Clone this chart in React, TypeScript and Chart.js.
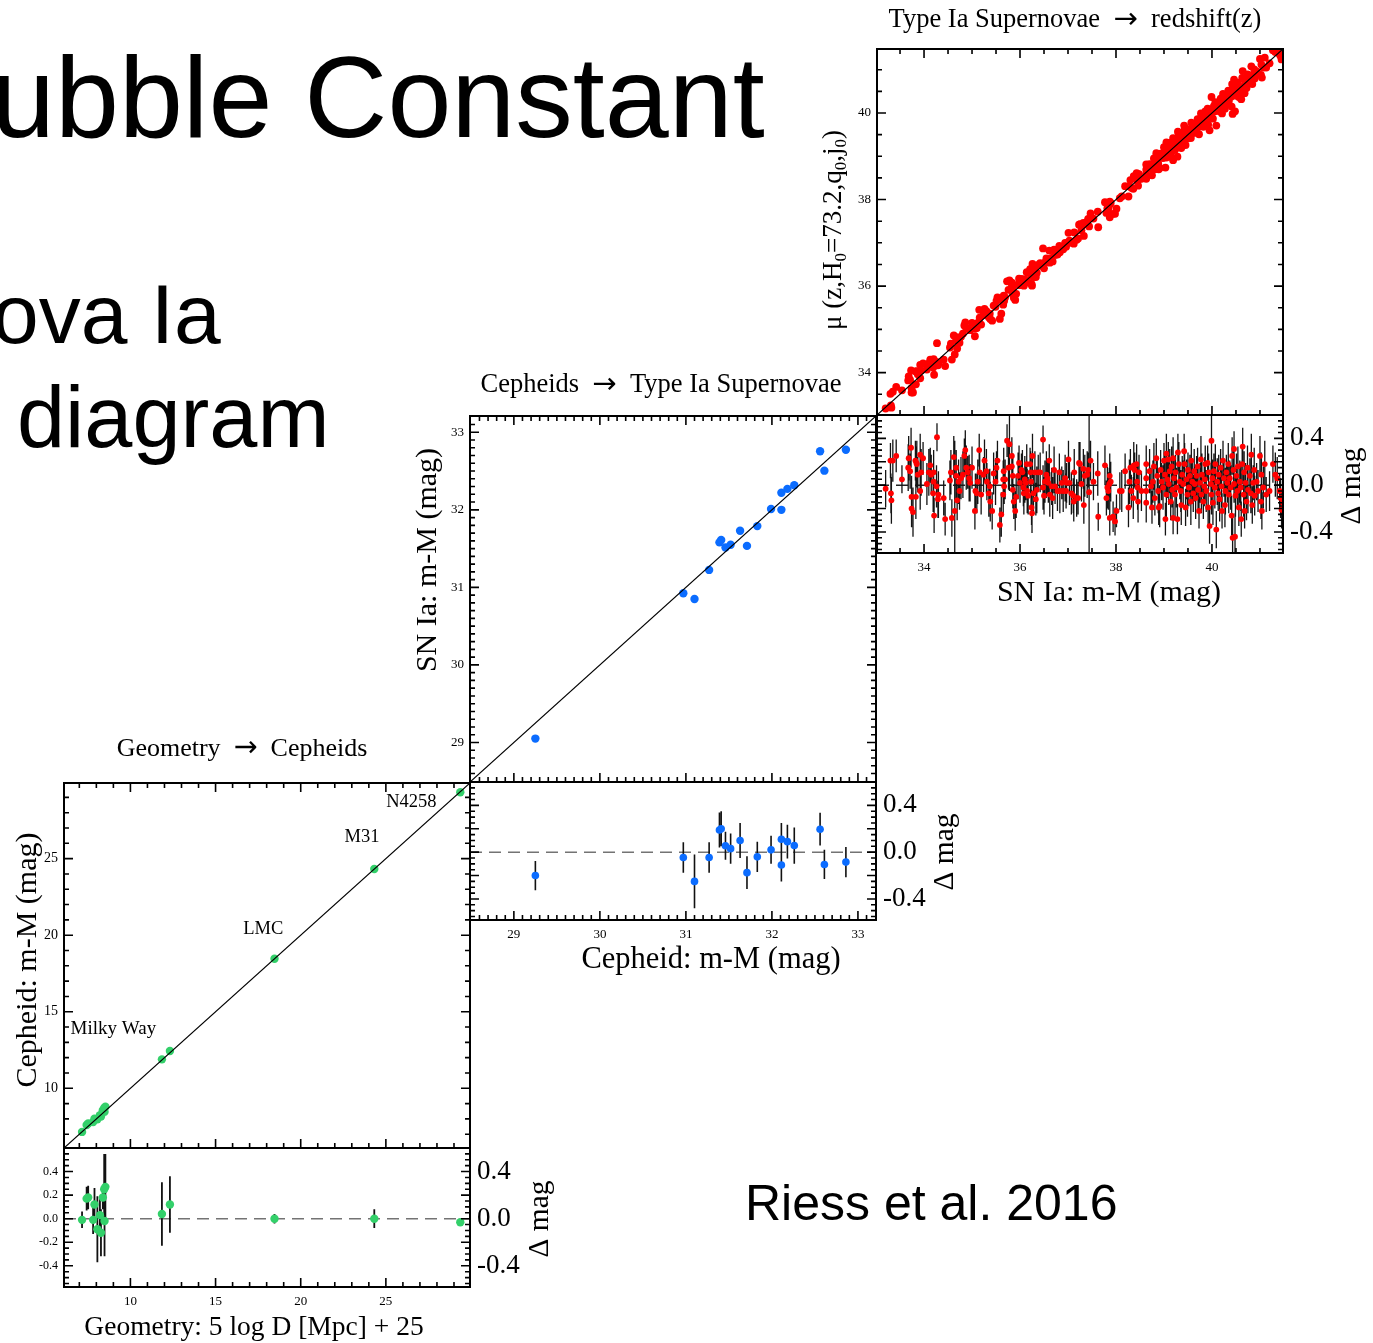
import React, { useEffect, useRef } from "react";
import { Chart, registerables } from "chart.js";

Chart.register(...registerables);

const PAGE_W = 1373;
const PAGE_H = 1343;
const SERIF = '"Liberation Serif", "Times New Roman", Times, serif';
const ARROW_FONT = '"DejaVu Sans", "Liberation Serif", serif';
const SANS = '"Liberation Sans", Helvetica, Arial, sans-serif';

const GREEN = "#33d06a";
const BLUE = "#0b6cff";
const RED = "#ff0000";

// ---- Geometry -> Cepheids (distance modulus from geometry, Cepheid offset, 1-sigma) ----
const GEO_MU = [7.16, 7.43, 7.52, 7.81, 7.89, 8.06, 8.21, 8.27, 8.38, 8.46, 8.53, 8.48, 11.85, 12.32, 18.46, 24.32, 29.37];
const GEO_DELTA = [-0.01, 0.17, 0.18, -0.01, 0.12, -0.09, 0.03, -0.12, 0.18, 0.25, 0.27, -0.02, 0.04, 0.12, 0.0, 0.0, -0.03];
const GEO_ERR = [0.07, 0.1, 0.1, 0.12, 0.14, 0.28, 0.15, 0.2, 0.1, 0.3, 0.28, 0.3, 0.27, 0.24, 0.04, 0.08, 0.03];
const GEO_NAMES = ["N4258", "M31", "LMC", "Milky Way"];

// ---- Cepheids -> SN Ia hosts ----
const CEPH_MU = [29.25, 30.97, 31.1, 31.27, 31.39, 31.41, 31.46, 31.52, 31.63, 31.71, 31.83, 31.99, 32.11, 32.11, 32.18, 32.26, 32.56, 32.61, 32.86];
const CEPH_DELTA = [-0.2, -0.045, -0.25, -0.045, 0.19, 0.2, 0.055, 0.03, 0.1, -0.175, -0.04, 0.02, 0.11, -0.11, 0.09, 0.057, 0.196, -0.105, -0.085];
const CEPH_ERR = [0.125, 0.13, 0.23, 0.13, 0.15, 0.15, 0.12, 0.13, 0.15, 0.14, 0.13, 0.12, 0.14, 0.14, 0.145, 0.155, 0.14, 0.125, 0.13];

// ---- SN Ia -> redshift (Hubble flow sample) ----
const SN_MU = [
  33.2, 33.3, 33.35, 33.31, 33.32, 33.42, 33.54, 33.68, 33.73, 33.67,
  33.71, 33.74, 33.74, 33.77, 33.82, 33.84, 33.85, 33.83, 33.87, 33.92,
  33.94, 33.92, 33.98, 34.06, 34.1, 34.13, 34.15, 34.2, 34.2, 34.19,
  34.21, 34.27, 34.26, 34.3, 34.29, 34.41, 34.44, 34.54, 34.58, 34.56,
  34.62, 34.64, 34.67, 34.69, 34.67, 34.72, 34.74, 34.77, 34.81, 34.84,
  34.86, 34.88, 34.91, 34.94, 34.96, 35.0, 35.07, 35.1, 35.12, 35.06,
  35.15, 35.16, 35.19, 35.24, 35.26, 35.3, 35.31, 35.35, 35.37, 35.38,
  35.42, 35.45, 35.49, 35.51, 35.53, 35.58, 35.61, 35.65, 35.65, 35.66,
  35.67, 35.69, 35.73, 35.76, 35.78, 35.83, 35.83, 35.87, 35.9,
  35.85, 35.85, 35.92, 35.96, 35.98, 36.0, 36.03, 36.05, 36.07, 36.08,
  36.1, 36.12, 36.14, 36.15, 36.17, 36.21, 36.22, 36.23, 36.24, 36.25,
  36.26, 36.28, 36.31, 36.33, 36.35, 36.38, 36.42, 36.48, 36.48, 36.5,
  36.52, 36.55, 36.57, 36.59, 36.61, 36.62, 36.66, 36.68, 36.71, 36.73,
  36.78, 36.82, 36.83, 36.87, 36.9, 36.94, 36.96, 36.97, 37.01, 37.03,
  37.07, 37.11, 37.12, 37.13, 37.18, 37.21, 37.23, 37.25, 37.28, 37.32,
  37.33, 37.35, 37.4, 37.42, 37.44, 37.47, 37.53, 37.62, 37.63, 37.77,
  37.8, 37.82, 37.84, 37.86, 37.87, 37.87, 37.89, 37.94, 37.98, 38.01,
  38.08, 38.12, 38.19, 38.26, 38.28, 38.3, 38.32, 38.36, 38.37, 38.39,
  38.43, 38.44, 38.45, 38.46, 38.48, 38.53,
  38.63, 38.63, 38.63, 38.63, 38.7, 38.73, 38.75, 38.77, 38.79, 38.81,
  38.84, 38.86, 38.88, 38.89, 38.91, 38.93, 38.95, 38.98, 39.0, 39.02,
  39.03, 39.05, 39.05, 39.07, 39.09, 39.1, 39.12, 39.14, 39.16, 39.17,
  39.19, 39.19, 39.21, 39.23, 39.24, 39.26, 39.28, 39.29, 39.31, 39.33,
  39.35, 39.36, 39.38, 39.4, 39.42, 39.43, 39.45, 39.47, 39.49, 39.5,
  39.52, 39.54, 39.56, 39.57, 39.59, 39.61, 39.63, 39.64, 39.66, 39.68,
  39.7, 39.71, 39.73, 39.75, 39.77, 39.78, 39.79, 39.82, 39.84, 39.85,
  39.86, 39.88, 39.91, 39.92, 39.93, 39.95, 39.98, 39.99, 39.99, 40.01,
  40.02, 40.04, 40.06, 40.07, 40.09, 40.11, 40.13, 40.14, 40.16, 40.18,
  40.2, 40.21, 40.23, 40.25, 40.27, 40.28, 40.3, 40.32, 40.34, 40.35,
  40.37, 40.39, 40.41, 40.42, 40.43, 40.45, 40.46, 40.48, 40.46, 40.49,
  40.51, 40.53, 40.54, 40.56, 40.58, 40.6, 40.61, 40.63, 40.64, 40.66,
  40.67, 40.68, 40.7, 40.72, 40.74, 40.75, 40.79, 40.81, 40.82, 40.84,
  40.86, 40.88, 40.89, 40.93, 40.96, 41.0, 41.02, 41.03, 41.04, 41.07,
  41.1, 41.13, 41.2, 41.27, 41.32, 41.36, 41.41, 41.43, 41.45, 41.48,
];
const SN_DELTA = [
  -0.03, 0.21, 0.21, -0.07, -0.13, 0.25, 0.05, 0.23, 0.32, 0.15,
  0.12, -0.1, -0.2, -0.23, 0.21, 0.19, 0.18, -0.1, 0.09, 0.26,
  0.11, -0.05, 0.23, 0.01, 0.11, 0.17, 0.09, 0.11, 0.03, -0.07,
  -0.26, 0.41, -0.01, -0.08, -0.12, -0.11, -0.29, 0.04, -0.28, 0.11,
  0.24, -0.22, 0.08, -0.13, 0.15, 0.03, -0.05, 0.06, 0.09, 0.25,
  0.3, 0.15, 0.11, 0.06, 0.02, 0.15, -0.05, -0.07, 0.03, -0.22,
  0.3, 0.11, -0.08, 0.09, 0.21, 0.12, 0.03, -0.07, -0.01, -0.14,
  -0.22, 0.1, 0.03, 0.15, 0.21, -0.34, -0.25, 0.05, -0.08, 0.12,
  -0.01, 0.05, 0.38, 0.15, 0.35, 0.25, 0.16, -0.14, -0.22,
  0.08, -0.04, -0.1, 0.08, 0.19, 0.02, 0.13, 0.11, -0.02, -0.07,
  0.05, 0.02, 0.18, -0.05, -0.09, 0.18, 0.11, 0.03, -0.19, -0.24,
  0.25, -0.07, 0.11, -0.12, -0.04, 0.11, 0.11, 0.39, -0.02, -0.09,
  0.03, 0.09, 0.06, 0.02, 0.21, -0.08, -0.01, -0.11, 0.13, -0.01,
  -0.05, 0.11, -0.05, 0.02, -0.05, 0.06, -0.05, 0.02, 0.22, 0.02,
  -0.07, -0.09, -0.14, 0.11, -0.11, -0.11, 0.19, 0.18, 0.01, 0.14,
  -0.17, 0.08, 0.09, 0.13, -0.06, 0.21, 0.03, 0.1, -0.27, 0.17,
  -0.11, -0.02, -0.05, 0.01, 0.08, -0.28, 0.03, -0.27, -0.31, -0.22,
  -0.05, -0.05, 0.12, -0.19, 0.03, 0.15, -0.05, -0.11, 0.17, 0.13,
  0.18, 0.03, -0.02, -0.14, 0.11, -0.05,
  0.18, 0.06, -0.05, -0.15, 0.12, -0.01, -0.19, 0.03, 0.16, -0.11,
  0.23, 0.08, -0.05, -0.19, -0.18, 0.13, 0.03, -0.02, 0.21, 0.09,
  -0.29, 0.27, -0.08, 0.05, 0.22, 0.01, 0.12, -0.14, 0.16, -0.04,
  -0.28, 0.23, 0.06, -0.08, 0.11, -0.02, -0.29, 0.28, 0.18, 0.03,
  -0.05, -0.17, 0.09, 0.01, 0.29, 0.18, -0.19, 0.05, -0.08, 0.13,
  -0.02, 0.08, -0.14, 0.21, 0.03, -0.07, 0.12, 0.01, -0.11, 0.08,
  0.16, -0.04, -0.22, 0.02, 0.22, -0.08, 0.09, -0.14, -0.01, 0.05,
  0.18, -0.05, 0.19, -0.19, 0.11, -0.35, 0.01, 0.38, -0.08, 0.06,
  -0.15, 0.12, -0.02, 0.18, -0.38, 0.03, -0.07, 0.09, -0.12, 0.15,
  -0.01, -0.22, 0.21, 0.06, -0.17, -0.05, 0.11, 0.02, 0.18, -0.08,
  0.06, -0.02, -0.26, 0.25, -0.45, 0.13, 0.31, -0.44, 0.01, -0.09,
  0.08, -0.05, 0.16, -0.19, 0.03, -0.02, -0.29, 0.18, 0.33, -0.08,
  0.11, -0.22, 0.02, -0.14, 0.15, -0.04, 0.08, -0.07, 0.26, -0.17,
  0.02, 0.13, -0.09, 0.03, -0.05, 0.25, -0.14, 0.09, -0.22, -0.02,
  0.18, -0.08, -0.05, 0.18, 0.09, 0.06, -0.05, -0.11, -0.21, -0.15,
];
const SN_ERR = [
  0.16, 0.15, 0.18, 0.17, 0.2, 0.14, 0.12, 0.19, 0.17, 0.2,
  0.15, 0.18, 0.16, 0.21, 0.17, 0.14, 0.2, 0.19, 0.15, 0.18,
  0.2, 0.16, 0.14, 0.18, 0.2, 0.15, 0.17, 0.19, 0.14, 0.16,
  0.15, 0.12, 0.18, 0.2, 0.16, 0.15, 0.14, 0.17, 0.16, 0.19,
  0.18, 0.6, 0.2, 0.17, 0.15, 0.19, 0.16, 0.18, 0.2, 0.15,
  0.17, 0.19, 0.14, 0.2, 0.16, 0.18, 0.15, 0.17, 0.19, 0.16,
  0.14, 0.2, 0.17, 0.15, 0.18, 0.19, 0.16, 0.2, 0.15, 0.17,
  0.16, 0.18, 0.2, 0.14, 0.17, 0.15, 0.19, 0.16, 0.18, 0.2,
  0.15, 0.17, 0.14, 0.19, 0.4, 0.16, 0.18, 0.15, 0.17,
  0.19, 0.16, 0.18, 0.2, 0.15, 0.17, 0.14, 0.19, 0.16, 0.18,
  0.2, 0.15, 0.17, 0.19, 0.16, 0.14, 0.18, 0.2, 0.15, 0.17,
  0.19, 0.16, 0.18, 0.14, 0.2, 0.15, 0.17, 0.12, 0.19, 0.16,
  0.18, 0.2, 0.15, 0.17, 0.14, 0.19, 0.16, 0.18, 0.2, 0.15,
  0.17, 0.16, 0.19, 0.14, 0.18, 0.2, 0.15, 0.17, 0.16, 0.19,
  0.18, 0.15, 0.17, 0.2, 0.16, 0.14, 0.18, 0.19, 0.15, 0.17,
  0.16, 0.18, 0.2, 0.15, 0.8, 0.17, 0.16, 0.19, 0.12, 0.17,
  0.15, 0.18, 0.16, 0.14, 0.19, 0.15, 0.17, 0.13, 0.12, 0.14,
  0.16, 0.18, 0.15, 0.17, 0.19, 0.16, 0.14, 0.18, 0.2, 0.15,
  0.17, 0.16, 0.19, 0.18, 0.15, 0.17,
  0.16, 0.18, 0.15, 0.17, 0.19, 0.16, 0.14, 0.18, 0.2, 0.15,
  0.17, 0.16, 0.19, 0.15, 0.18, 0.17, 0.16, 0.19, 0.15, 0.18,
  0.14, 0.17, 0.2, 0.16, 0.15, 0.18, 0.19, 0.16, 0.17, 0.15,
  0.14, 0.18, 0.16, 0.2, 0.15, 0.17, 0.13, 0.16, 0.19, 0.15,
  0.18, 0.17, 0.16, 0.2, 0.15, 0.18, 0.16, 0.17, 0.19, 0.15,
  0.16, 0.18, 0.2, 0.15, 0.17, 0.16, 0.19, 0.15, 0.18, 0.17,
  0.16, 0.19, 0.15, 0.17, 0.2, 0.16, 0.18, 0.15, 0.17, 0.19,
  0.16, 0.18, 0.15, 0.17, 0.16, 0.15, 0.18, 0.3, 0.17, 0.16,
  0.19, 0.15, 0.18, 0.17, 0.16, 0.2, 0.15, 0.17, 0.19, 0.16,
  0.18, 0.15, 0.17, 0.16, 0.19, 0.2, 0.15, 0.17, 0.18, 0.16,
  0.15, 0.19, 0.17, 0.16, 0.2, 0.17, 0.15, 0.2, 0.16, 0.18,
  0.19, 0.15, 0.17, 0.16, 0.18, 0.2, 0.15, 0.17, 0.16, 0.19,
  0.18, 0.15, 0.17, 0.16, 0.19, 0.2, 0.15, 0.17, 0.18, 0.16,
  0.15, 0.19, 0.17, 0.16, 0.18, 0.17, 0.15, 0.19, 0.16, 0.18,
  0.2, 0.15, 0.17, 0.16, 0.19, 0.18, 0.15, 0.17, 0.16, 0.18,
];

// ---- helpers that turn the tables into Chart.js point lists ----
type Pt = { x: number; y: number | null };

function mainPoints(mu: number[], delta: number[]): Pt[] {
  const n = Math.min(mu.length, delta.length);
  const out: Pt[] = [];
  for (let i = 0; i < n; i++) out.push({ x: mu[i], y: mu[i] + delta[i] });
  return out;
}
function residualPoints(mu: number[], delta: number[]): Pt[] {
  const n = Math.min(mu.length, delta.length);
  const out: Pt[] = [];
  for (let i = 0; i < n; i++) out.push({ x: mu[i], y: delta[i] });
  return out;
}
// vertical error bars as one broken polyline (null breaks each segment)
function errorSegments(mu: number[], delta: number[], err: number[]): Pt[] {
  const n = Math.min(mu.length, delta.length, err.length);
  const out: Pt[] = [];
  for (let i = 0; i < n; i++) {
    out.push({ x: mu[i], y: delta[i] - err[i] });
    out.push({ x: mu[i], y: delta[i] + err[i] });
    out.push({ x: mu[i], y: null });
  }
  return out;
}

type Seg = { t: string; sub?: boolean; font?: string; scale?: number };
type TextItem = {
  text: string | Seg[];
  x: number;
  y: number;
  size: number;
  rotate?: boolean;
  data?: boolean; // x/y given in data units
};
type Axis = { min: number; max: number; major: number; minor: number };
type Labels = { values: number[]; size: number; digits: number };
type PanelSpec = {
  box: [number, number, number, number];
  x: Axis;
  y: Axis;
  topTicks: boolean;
  left?: Labels;
  right?: Labels;
  bottom?: Labels;
  texts: TextItem[];
  datasets: any[];
};

function tickList(ax: Axis) {
  const ratio = Math.round(ax.major / ax.minor);
  const n0 = Math.ceil(ax.min / ax.minor - 1e-6);
  const n1 = Math.floor(ax.max / ax.minor + 1e-6);
  const out: { value: number; major: boolean }[] = [];
  for (let n = n0; n <= n1; n++) {
    out.push({ value: n * ax.minor, major: ((n % ratio) + ratio) % ratio === 0 });
  }
  return out;
}

function segFont(s: Seg, size: number) {
  const px = s.sub ? Math.round(size * 0.64) : size * (s.scale || 1);
  return `${px}px ${s.font || SERIF}`;
}

function drawRich(ctx: CanvasRenderingContext2D, item: TextItem, px: number, py: number) {
  const segs: Seg[] = typeof item.text === "string" ? [{ t: item.text }] : item.text;
  ctx.save();
  ctx.translate(px, py);
  if (item.rotate) ctx.rotate(-Math.PI / 2);
  ctx.textBaseline = "middle";
  ctx.textAlign = "left";
  let total = 0;
  const widths = segs.map((s) => {
    ctx.font = segFont(s, item.size);
    const w = ctx.measureText(s.t).width;
    total += w;
    return w;
  });
  let cx = -total / 2;
  segs.forEach((s, i) => {
    ctx.font = segFont(s, item.size);
    ctx.fillText(s.t, cx, s.sub ? item.size * 0.28 : 0);
    cx += widths[i];
  });
  ctx.restore();
}

function framePlugin(spec: PanelSpec) {
  return {
    id: "idlFrame",
    afterDraw(chart: any) {
      const { ctx, chartArea: a, scales } = chart;
      const xs = scales.x;
      const ys = scales.y;
      ctx.save();
      ctx.strokeStyle = "#000";
      ctx.fillStyle = "#000";
      // tick marks pointing inward
      ctx.lineWidth = 1.6;
      ctx.beginPath();
      for (const t of tickList(spec.x)) {
        const px = xs.getPixelForValue(t.value);
        if (px < a.left + 1 || px > a.right - 1) continue;
        const len = t.major ? 9 : 5;
        ctx.moveTo(px, a.bottom);
        ctx.lineTo(px, a.bottom - len);
        if (spec.topTicks) {
          ctx.moveTo(px, a.top);
          ctx.lineTo(px, a.top + len);
        }
      }
      for (const t of tickList(spec.y)) {
        const py = ys.getPixelForValue(t.value);
        if (py < a.top + 1 || py > a.bottom - 1) continue;
        const len = t.major ? 9 : 5;
        ctx.moveTo(a.left, py);
        ctx.lineTo(a.left + len, py);
        ctx.moveTo(a.right, py);
        ctx.lineTo(a.right - len, py);
      }
      ctx.stroke();
      // frame
      ctx.lineWidth = 2;
      ctx.strokeRect(a.left, a.top, a.right - a.left, a.bottom - a.top);

      // tick labels
      if (spec.left) {
        ctx.font = `${spec.left.size}px ${SERIF}`;
        ctx.textAlign = "right";
        ctx.textBaseline = "middle";
        for (const v of spec.left.values) ctx.fillText(v.toFixed(spec.left.digits), a.left - 6, ys.getPixelForValue(v));
      }
      if (spec.right) {
        ctx.font = `${spec.right.size}px ${SERIF}`;
        ctx.textAlign = "left";
        ctx.textBaseline = "middle";
        for (const v of spec.right.values) ctx.fillText(v.toFixed(spec.right.digits), a.right + 7, ys.getPixelForValue(v));
      }
      if (spec.bottom) {
        ctx.font = `${spec.bottom.size}px ${SERIF}`;
        ctx.textAlign = "center";
        ctx.textBaseline = "top";
        for (const v of spec.bottom.values) ctx.fillText(v.toFixed(spec.bottom.digits), xs.getPixelForValue(v), a.bottom + 8);
      }
      // titles, axis names and annotations
      for (const item of spec.texts) {
        const px = item.data ? xs.getPixelForValue(item.x) : item.x;
        const py = item.data ? ys.getPixelForValue(item.y) : item.y;
        drawRich(ctx, item, px, py);
      }
      ctx.restore();
    },
  };
}

function diagonal(ax: Axis) {
  return {
    data: [
      { x: ax.min, y: ax.min },
      { x: ax.max, y: ax.max },
    ],
    showLine: true,
    borderColor: "#000",
    borderWidth: 1.2,
    pointRadius: 0,
    clip: 0,
    order: 0,
  };
}
function zeroLine(ax: Axis, color: string) {
  return {
    data: [
      { x: ax.min, y: 0 },
      { x: ax.max, y: 0 },
    ],
    showLine: true,
    borderColor: color,
    borderWidth: 1.5,
    borderDash: [12, 7],
    pointRadius: 0,
    clip: 0,
    order: 2,
  };
}
function dots(data: Pt[], color: string, r: number, order: number) {
  return {
    data,
    backgroundColor: color,
    borderColor: color,
    pointBackgroundColor: color,
    pointBorderWidth: 0,
    pointRadius: r,
    showLine: false,
    clip: 0,
    order,
  };
}
function bars(data: Pt[], color: string, w: number) {
  return {
    data,
    showLine: true,
    spanGaps: false,
    borderColor: color,
    borderWidth: w,
    pointRadius: 0,
    clip: 0,
    order: 1,
  };
}
// panel headings: "A → B" with a wider arrow and en-spaces around it
function arrowTitle(a: string, b: string): Seg[] {
  return [{ t: a + "\u2002" }, { t: "\u2192", font: ARROW_FONT, scale: 1.1 }, { t: "\u2002" + b }];
}

const RES_AXIS: Axis = { min: -0.58, max: 0.6, major: 0.2, minor: 0.05 };
const GEO_AXIS: Axis = { min: 6.1, max: 29.94, major: 5, minor: 1 };
const CEPH_AXIS: Axis = { min: 28.49, max: 33.21, major: 1, minor: 0.1 };
const SN_AXIS: Axis = { min: 33.02, max: 41.48, major: 2, minor: 0.5 };
const RIGHT_RES: Labels = { values: [-0.4, 0, 0.4], size: 27, digits: 1 };
const DMAG = "\u0394 mag";

const PANELS: PanelSpec[] = [
  {
    box: [64, 783, 406, 365],
    x: GEO_AXIS,
    y: GEO_AXIS,
    topTicks: true,
    left: { values: [10, 15, 20, 25], size: 14, digits: 0 },
    texts: [
      { text: arrowTitle("Geometry", "Cepheids"), x: 242, y: 749, size: 26 },
      { text: "Cepheid: m-M (mag)", x: 28, y: 960, size: 30, rotate: true },
      { text: GEO_NAMES[0], x: 26.5, y: 28.7, size: 18.5, data: true },
      { text: GEO_NAMES[1], x: 23.6, y: 26.4, size: 18.5, data: true },
      { text: GEO_NAMES[2], x: 17.8, y: 20.4, size: 18.5, data: true },
      { text: GEO_NAMES[3], x: 9.0, y: 13.9, size: 19, data: true },
    ],
    datasets: [diagonal(GEO_AXIS), dots(mainPoints(GEO_MU, GEO_DELTA), GREEN, 4.2, 1)],
  },
  {
    box: [64, 1148, 406, 139],
    x: GEO_AXIS,
    y: RES_AXIS,
    topTicks: false,
    left: { values: [-0.4, -0.2, 0, 0.2, 0.4], size: 12, digits: 1 },
    right: RIGHT_RES,
    bottom: { values: [10, 15, 20, 25], size: 13, digits: 0 },
    texts: [
      { text: "Geometry: 5 log D [Mpc] + 25", x: 254, y: 1328, size: 27.5 },
      { text: DMAG, x: 540, y: 1219, size: 29.5, rotate: true },
    ],
    datasets: [
      dots(residualPoints(GEO_MU, GEO_DELTA), GREEN, 4.2, 0),
      bars(errorSegments(GEO_MU, GEO_DELTA, GEO_ERR), "#111", 1.8),
      zeroLine(GEO_AXIS, "#737373"),
    ],
  },
  {
    box: [470, 416, 406, 366],
    x: CEPH_AXIS,
    y: CEPH_AXIS,
    topTicks: true,
    left: { values: [29, 30, 31, 32, 33], size: 13, digits: 0 },
    texts: [
      { text: arrowTitle("Cepheids", "Type Ia Supernovae"), x: 661, y: 385, size: 26.5 },
      { text: "SN Ia: m-M (mag)", x: 428, y: 560, size: 30, rotate: true },
    ],
    datasets: [diagonal(CEPH_AXIS), dots(mainPoints(CEPH_MU, CEPH_DELTA), BLUE, 4.2, 1)],
  },
  {
    box: [470, 782, 406, 138],
    x: CEPH_AXIS,
    y: RES_AXIS,
    topTicks: false,
    right: RIGHT_RES,
    bottom: { values: [29, 30, 31, 32, 33], size: 13, digits: 0 },
    texts: [
      { text: "Cepheid: m-M (mag)", x: 711, y: 960, size: 30.5 },
      { text: DMAG, x: 945, y: 852, size: 29.5, rotate: true },
    ],
    datasets: [
      dots(residualPoints(CEPH_MU, CEPH_DELTA), BLUE, 3.8, 0),
      bars(errorSegments(CEPH_MU, CEPH_DELTA, CEPH_ERR), "#111", 1.6),
      zeroLine(CEPH_AXIS, "#737373"),
    ],
  },
  {
    box: [877, 49, 406, 366],
    x: SN_AXIS,
    y: SN_AXIS,
    topTicks: true,
    left: { values: [34, 36, 38, 40], size: 13, digits: 0 },
    texts: [
      { text: arrowTitle("Type Ia Supernovae", "redshift(z)"), x: 1075, y: 20, size: 26.5 },
      {
        text: [
          { t: "\u03bc (z,H" },
          { t: "0", sub: true },
          { t: "=73.2,q" },
          { t: "0", sub: true },
          { t: ",j" },
          { t: "0", sub: true },
          { t: ")" },
        ],
        x: 834,
        y: 230,
        size: 27,
        rotate: true,
      },
    ],
    datasets: [diagonal(SN_AXIS), dots(mainPoints(SN_MU, SN_DELTA), RED, 3.9, 1)],
  },
  {
    box: [877, 415, 406, 138],
    x: SN_AXIS,
    y: RES_AXIS,
    topTicks: false,
    right: RIGHT_RES,
    bottom: { values: [34, 36, 38, 40], size: 13, digits: 0 },
    texts: [
      { text: "SN Ia: m-M (mag)", x: 1109, y: 593, size: 30 },
      { text: DMAG, x: 1352, y: 486, size: 29.5, rotate: true },
    ],
    datasets: [
      dots(residualPoints(SN_MU, SN_DELTA), RED, 2.9, 0),
      bars(errorSegments(SN_MU, SN_DELTA, SN_ERR), "#141414", 1.3),
      zeroLine(SN_AXIS, "#222"),
    ],
  },
];

function Panel({ spec }: { spec: PanelSpec }) {
  const ref = useRef<HTMLCanvasElement | null>(null);
  useEffect(() => {
    if (!ref.current) return;
    const [l, t, w, h] = spec.box;
    const chart = new Chart(ref.current, {
      type: "scatter",
      data: { datasets: spec.datasets },
      options: {
        animation: false,
        responsive: false,
        events: [],
        layout: { padding: { left: l, top: t, right: PAGE_W - l - w, bottom: PAGE_H - t - h } },
        scales: {
          x: { type: "linear", min: spec.x.min, max: spec.x.max, display: false },
          y: { type: "linear", min: spec.y.min, max: spec.y.max, display: false },
        },
        plugins: { legend: { display: false }, tooltip: { enabled: false } },
      },
      plugins: [framePlugin(spec)],
    } as any);
    return () => chart.destroy();
  }, [spec]);
  return (
    <canvas
      ref={ref}
      width={PAGE_W}
      height={PAGE_H}
      style={{ position: "absolute", left: 0, top: 0, width: PAGE_W, height: PAGE_H }}
    />
  );
}

const slideText = (size: number): React.CSSProperties => ({
  position: "absolute",
  fontFamily: SANS,
  fontSize: size,
  lineHeight: `${size}px`,
  whiteSpace: "nowrap",
  color: "#000",
});

export default function App() {
  return (
    <div
      style={{
        position: "absolute",
        left: 0,
        top: 0,
        width: PAGE_W,
        height: PAGE_H,
        overflow: "hidden",
        background: "#fff",
      }}
    >
      <div style={{ ...slideText(115), left: -9, top: 40 }}>ubble Constant</div>
      <div style={{ ...slideText(84), left: -8, top: 272 }}>ova Ia</div>
      <div style={{ ...slideText(86.5), left: 17, top: 374 }}>diagram</div>
      <div style={{ ...slideText(50), left: 745, top: 1178 }}>Riess et al. 2016</div>
      {PANELS.map((p, i) => (
        <Panel key={i} spec={p} />
      ))}
    </div>
  );
}
